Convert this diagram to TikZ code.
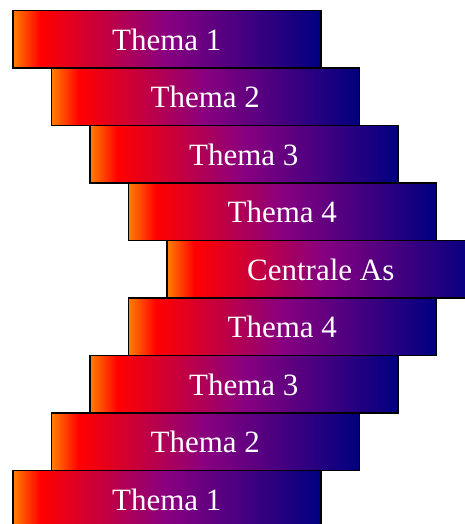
\documentclass[tikz,border=0pt]{standalone}
\usepackage{fontspec}
\setmainfont{Liberation Serif}
\definecolor{themaoranje}{RGB}{255,128,0}
\definecolor{themarood}{RGB}{255,0,0}
\definecolor{themapaars}{RGB}{136,0,128}
\definecolor{themablauw}{RGB}{0,0,128}
\pgfdeclarehorizontalshading{themakleur}{100bp}{color(0bp)=(themaoranje); color(25bp)=(themaoranje); color(29.5bp)=(themarood); color(50bp)=(themapaars); color(75bp)=(themablauw); color(100bp)=(themablauw)}
\begin{document}
\begin{tikzpicture}[x=1pt,y=1pt,
	thema/.style={draw, line width=1.5pt, shade, shading=themakleur, minimum width=308pt, minimum height=57.5pt, inner sep=0pt, text=white, font=\fontsize{31}{36}\selectfont, anchor=north west}]
	\useasboundingbox (0,0) rectangle (465,524);
	\clip (0,0) rectangle (465,524);
	\foreach \i/\tekst in {0/Thema 1,1/Thema 2,2/Thema 3,3/Thema 4,4/Centrale As,5/Thema 4,6/Thema 3,7/Thema 2,8/Thema 1}{
		\pgfmathsetmacro{\dx}{38.5*min(\i,8-\i)}
		\node[thema] (t\i) at ({12+\dx},{514-57.5*\i}) {\tekst};
	}
\end{tikzpicture}
\end{document}
